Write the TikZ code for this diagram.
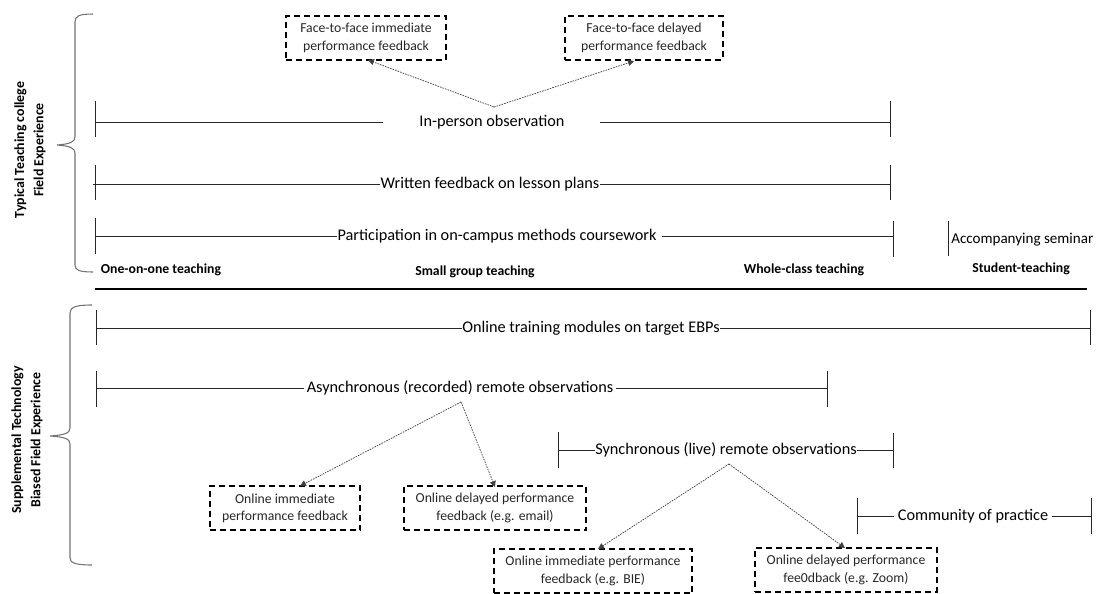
\documentclass[tikz,border=0pt]{standalone}
\usepackage{fontspec}
\setmainfont{Carlito}
\usetikzlibrary{arrows.meta}
\begin{document}
\begin{tikzpicture}[x=0.75pt,y=-0.75pt,
  bar/.style={draw=black!85,line width=0.6pt},
  tick/.style={draw=black!85,line width=0.6pt},
  brace/.style={draw=black!55,line width=0.8pt},
  lbl/.style={inner sep=1pt,font=\fontsize{12.2}{14}\selectfont},
  catlbl/.style={inner sep=0pt,font=\bfseries\fontsize{10.3}{12}\selectfont},
  sidelbl/.style={rotate=90,align=center,inner sep=0pt,font=\bfseries\fontsize{10.4}{14.5}\selectfont},
  fbbox/.style={draw=black,line width=1.4pt,dash pattern=on 4.5pt off 3pt,align=center,text=black!85,
     minimum height=33pt,inner xsep=4pt,font=\fontsize{10.3}{13}\selectfont},
  arr/.style={draw=black!75,line width=0.55pt,dash pattern=on 1.2pt off 0.8pt,-{Triangle[width=4.5pt,length=4.5pt]}}]
\useasboundingbox (0,0) rectangle (1102,593);
\clip (0,0) rectangle (1102,593);

% ---------- top section ----------
\draw[brace] (93,14) .. controls (79,14) and (75,16) .. (75,22) -- (75,137)
  .. controls (75,142) and (70,144) .. (57,145) .. controls (70,146) and (75,148) .. (75,153)
  -- (75,265) .. controls (75,270) and (79,272) .. (93,272);
\node[sidelbl] (topside) at (30,150) {Typical Teaching college\\Field Experience};

% In-person observation
\coordinate (ip1t) at (95,101); \coordinate (ip1b) at (95,137);
\coordinate (ip2t) at (890,101); \coordinate (ip2b) at (890,137);
\coordinate (ipL) at (95,122); \coordinate (ipR) at (890,122);
\coordinate (ipLg) at (383,122); \coordinate (ipRg) at (600,122);
\node[lbl] (ip) at (492,122) {In-person observation};
\draw[tick] (ip1t) -- (ip1b); \draw[tick] (ip2t) -- (ip2b);
\draw[bar] (ipL) -- (ipLg); \draw[bar] (ipRg) -- (ipR);
\coordinate (ipsrc) at (494,107);

\node[fbbox,minimum width=120pt] (fi) at (366,38) {Face-to-face immediate\\performance feedback};
\node[fbbox,minimum width=118pt] (fd) at (644,38) {Face-to-face delayed\\performance feedback};
\coordinate (fitip) at (368,60); \coordinate (fdtip) at (634,61);
\draw[arr] (ipsrc) -- (fitip);
\draw[arr] (ipsrc) -- (fdtip);

% Written feedback
\coordinate (wf1t) at (95,165); \coordinate (wf1b) at (95,200);
\coordinate (wf2t) at (890,165); \coordinate (wf2b) at (890,200);
\coordinate (wfL) at (93,184); \coordinate (wfR) at (890,184);
\node[lbl,inner sep=0pt] (wf) at (490,184) {Written feedback on lesson plans};
\draw[tick] (wf1t) -- (wf1b); \draw[tick] (wf2t) -- (wf2b);
\draw[bar] (wfL) -- (wf.west); \draw[bar] (wf.east) -- (wfR);

% Participation
\coordinate (pc1t) at (95,218); \coordinate (pc1b) at (95,254);
\coordinate (pc2t) at (893,221); \coordinate (pc2b) at (893,257);
\coordinate (pcL) at (95,236); \coordinate (pcR) at (893,236);
\node[lbl,inner sep=0pt] (pc) at (497,236) {Participation in on-campus methods coursework};
\draw[tick] (pc1t) -- (pc1b); \draw[tick] (pc2t) -- (pc2b);
\draw[bar] (pcL) -- (pc.west); \draw[bar] ([xshift=4pt]pc.east) -- (pcR);

% Accompanying seminar
\coordinate (as1t) at (948,221); \coordinate (as1b) at (948,256);
\draw[tick] (as1t) -- (as1b);
\node[lbl,anchor=west,inner sep=0pt,font=\fontsize{11.3}{13}\selectfont] (as) at (951,240) {Accompanying seminar};

% Category labels
\node[catlbl] (c1) at (161,270) {One-on-one teaching};
\node[catlbl] (c2) at (475,272) {Small group teaching};
\node[catlbl] (c3) at (804,270) {Whole-class teaching};
\node[catlbl] (c4) at (1021,269) {Student-teaching};

% thick divider
\coordinate (dvL) at (95,289); \coordinate (dvR) at (1087,289);
\draw[line width=2.2pt,black] (dvL) -- (dvR);

% ---------- bottom section ----------
\draw[brace] (92,305) .. controls (76,305) and (70,307) .. (70,313) -- (70,428)
  .. controls (70,433) and (65,435) .. (50,436) .. controls (65,437) and (70,439) .. (70,444)
  -- (70,558) .. controls (70,563) and (76,565) .. (92,565);
\node[sidelbl] (botside) at (27,440) {Supplemental Technology\\Biased Field Experience};

% Online training modules
\coordinate (ot1t) at (96,310); \coordinate (ot1b) at (96,345);
\coordinate (ot2t) at (1090,310); \coordinate (ot2b) at (1090,345);
\coordinate (otL) at (96,328); \coordinate (otR) at (1090,328);
\node[lbl,inner sep=0pt] (ot) at (591,328) {Online training modules on target EBPs};
\draw[tick] (ot1t) -- (ot1b); \draw[tick] (ot2t) -- (ot2b);
\draw[bar] (otL) -- (ot.west); \draw[bar] (ot.east) -- (otR);

% Asynchronous
\coordinate (ay1t) at (96,371); \coordinate (ay1b) at (96,407);
\coordinate (ay2t) at (827,371); \coordinate (ay2b) at (827,407);
\coordinate (ayL) at (96,388); \coordinate (ayR) at (827,388);
\node[lbl,inner sep=0pt] (ay) at (460,388) {Asynchronous (recorded) remote observations};
\draw[tick] (ay1t) -- (ay1b); \draw[tick] (ay2t) -- (ay2b);
\draw[bar] (ayL) -- ([xshift=-2pt]ay.west); \draw[bar] ([xshift=2pt]ay.east) -- (ayR);
\coordinate (aysrc) at (461,402);

\node[fbbox,minimum width=113pt] (oi) at (285,508) {Online immediate\\performance feedback};
\node[fbbox,minimum width=137pt] (od) at (495,508) {Online delayed performance\\feedback (e.g. email)};
\coordinate (oitip) at (300,486); \coordinate (odtip) at (495,487);
\draw[arr] (aysrc) -- (oitip);
\draw[arr] (aysrc) -- (odtip);

% Synchronous
\coordinate (sy1t) at (558,432); \coordinate (sy1b) at (558,468);
\coordinate (sy2t) at (893,433); \coordinate (sy2b) at (893,468);
\coordinate (syL) at (558,450); \coordinate (syR) at (893,450);
\node[lbl,inner sep=0pt] (sy) at (726,450) {Synchronous (live) remote observations};
\draw[tick] (sy1t) -- (sy1b); \draw[tick] (sy2t) -- (sy2b);
\draw[bar] (syL) -- (sy.west); \draw[bar] (sy.east) -- (syR);
\coordinate (sysrc) at (729,464);

\node[fbbox,minimum width=149pt] (si) at (593,571) {Online immediate performance\\feedback (e.g. BIE)};
\node[fbbox,minimum width=136pt] (sd) at (846,570) {Online delayed performance\\fee0dback (e.g. Zoom)};
\coordinate (sitip) at (598,549); \coordinate (sdtip) at (845,548);
\draw[arr] (sysrc) -- (sitip);
\draw[arr] (sysrc) -- (sdtip);

% Community of practice
\coordinate (cp1t) at (857,498); \coordinate (cp1b) at (857,534);
\coordinate (cp2t) at (1091,498); \coordinate (cp2b) at (1091,534);
\coordinate (cpL) at (857,516); \coordinate (cpR) at (1091,516);
\node[lbl,inner sep=0pt] (cp) at (973,516) {Community of practice};
\draw[tick] (cp1t) -- (cp1b); \draw[tick] (cp2t) -- (cp2b);
\draw[bar] (cpL) -- ([xshift=-3pt]cp.west); \draw[bar] ([xshift=3pt]cp.east) -- (cpR);
\end{tikzpicture}
\end{document}
